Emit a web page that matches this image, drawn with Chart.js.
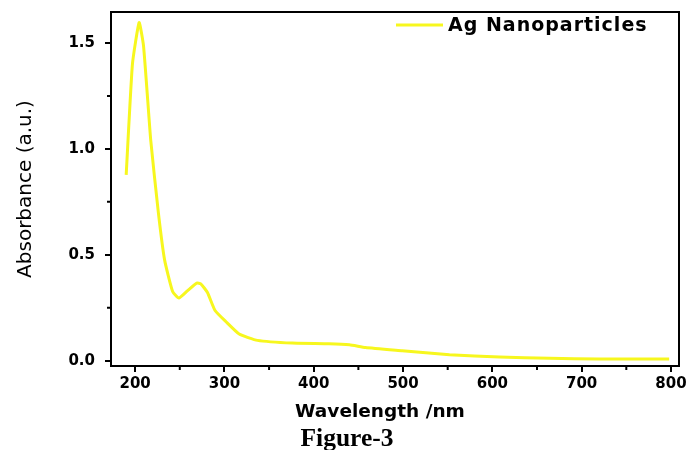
<!DOCTYPE html>
<html>
<head>
<meta charset="utf-8">
<script src="https://cdn.jsdelivr.net/npm/chart.js@4.4.0/dist/chart.umd.min.js"></script>
<style>
  html, body { margin: 0; padding: 0; background: #fff; }
  .wrap { position: relative; width: 691px; height: 450px; }
  .x-title {
    position: absolute; left: 380px; top: 400px; transform: translateX(-50%);
    font: bold 18.5px "DejaVu Sans"; color: #000; white-space: nowrap;
  }
  .caption {
    position: absolute; left: 347px; top: 423px; transform: translateX(-50%);
    font: bold 25.5px "Liberation Serif"; color: #000; white-space: nowrap;
  }
</style>
</head>
<body>
<div class="wrap">
  <canvas id="chart" width="691" height="450"></canvas>
  <div class="x-title">Wavelength /nm</div>
  <div class="caption">Figure-3</div>
</div>
<script>
// UV-vis spectrum
const wavelength = [190, 197, 204.5, 209.5, 217.5, 226, 233, 242, 249, 258.5, 269, 273.5, 281, 289.5, 301.5, 316.5, 337, 376, 417, 440, 458, 499, 552, 608, 664, 720, 798];
const absorbance = [0.877, 1.40, 1.596, 1.483, 1.04, 0.70, 0.476, 0.327, 0.296, 0.33, 0.366, 0.363, 0.322, 0.237, 0.185, 0.126, 0.096, 0.083, 0.080, 0.075, 0.062, 0.047, 0.028, 0.017, 0.011, 0.008, 0.008];

const xTicks = [200, 300, 400, 500, 600, 700, 800];
const xMinor = [250, 350, 450, 550, 650, 750];
const yTicks = [0, 0.5, 1.0, 1.5];
const yMinor = [0.25, 0.75, 1.25];
const seriesName = 'Ag Nanoparticles';

const LINE = '#f7f71e';

// box around the plot, minor ticks and the in-plot legend
const frame = {
  id: 'frame',
  afterDraw(chart) {
    const { ctx, chartArea: a, scales } = chart;
    ctx.save();
    ctx.strokeStyle = '#000';
    ctx.lineWidth = 2;
    ctx.strokeRect(a.left, a.top, a.right - a.left, a.bottom - a.top);
    ctx.beginPath();
    xMinor.forEach((v) => {
      const px = scales.x.getPixelForValue(v);
      ctx.moveTo(px, a.bottom); ctx.lineTo(px, a.bottom + 4);
    });
    yMinor.forEach((v) => {
      const py = scales.y.getPixelForValue(v);
      ctx.moveTo(a.left, py); ctx.lineTo(a.left - 4, py);
    });
    ctx.stroke();

    // legend
    ctx.strokeStyle = LINE;
    ctx.lineWidth = 3;
    ctx.beginPath();
    ctx.moveTo(396, 25); ctx.lineTo(443, 25);
    ctx.stroke();
    ctx.fillStyle = '#000';
    ctx.font = 'bold 19px "DejaVu Sans"';
    ctx.letterSpacing = '1px';
    ctx.textBaseline = 'middle';
    ctx.fillText(seriesName, 448, 26);
    ctx.restore();
  },
};

const tickFont = { family: 'DejaVu Sans', size: 15, weight: 'bold' };

new Chart(document.getElementById('chart'), {
  type: 'line',
  data: {
    datasets: [{
      label: seriesName,
      data: wavelength.map((w, i) => ({ x: w, y: absorbance[i] })),
      borderColor: LINE,
      borderWidth: 3,
      pointRadius: 0,
      tension: 0.15,
      fill: false,
    }],
  },
  options: {
    responsive: false,
    animation: false,
    layout: { padding: { left: 0, top: 12, right: 12, bottom: 0 } },
    plugins: { legend: { display: false }, tooltip: { enabled: false } },
    scales: {
      x: {
        type: 'linear',
        min: 173,
        max: 809,
        afterBuildTicks: (s) => { s.ticks = xTicks.map((v) => ({ value: v })); },
        afterFit: (s) => { s.height = 84; s.paddingLeft = 0; s.paddingRight = 0; },
        grid: { drawOnChartArea: false, drawTicks: true, tickLength: 6, color: '#000', lineWidth: 2 },
        border: { display: true, color: '#000', width: 2 },
        ticks: { color: '#000', font: tickFont, padding: 3, maxRotation: 0 },
      },
      y: {
        min: -0.025,
        max: 1.646,
        afterBuildTicks: (s) => { s.ticks = yTicks.map((v) => ({ value: v })); },
        afterFit: (s) => { s.width = 111; s.paddingTop = 0; s.paddingBottom = 0; },
        grid: { drawOnChartArea: false, drawTicks: true, tickLength: 6, color: '#000', lineWidth: 2 },
        border: { display: true, color: '#000', width: 2 },
        ticks: { color: '#000', font: tickFont, padding: 10, callback: (v) => v.toFixed(1) },
        title: {
          display: true,
          text: 'Absorbance (a.u.)',
          color: '#000',
          font: { family: 'DejaVu Sans', size: 20 },
          padding: { top: 14, bottom: 0 },
        },
      },
    },
  },
  plugins: [frame],
});
</script>
</body>
</html>
